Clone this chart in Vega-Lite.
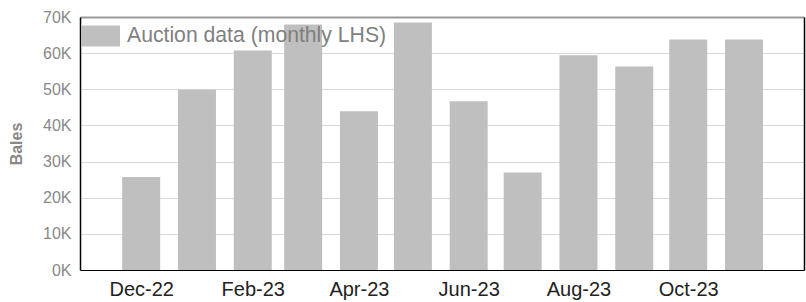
{
  "$schema": "https://vega.github.io/schema/vega-lite/v6.json",
  "width": 724,
  "height": 253,
  "autosize": {"type": "none"},
  "padding": {"left": 80, "top": 17, "right": 2, "bottom": 32},
  "background": "white",
  "config": {"view": {"stroke": null}, "font": "Liberation Sans"},
  "data": {
    "values": [
      {"month": "2022-12-01", "bales": 25700, "series": "Auction data (monthly LHS)"},
      {"month": "2023-01-01", "bales": 49900, "series": "Auction data (monthly LHS)"},
      {"month": "2023-02-01", "bales": 60700, "series": "Auction data (monthly LHS)"},
      {"month": "2023-03-01", "bales": 67900, "series": "Auction data (monthly LHS)"},
      {"month": "2023-04-01", "bales": 43900, "series": "Auction data (monthly LHS)"},
      {"month": "2023-05-01", "bales": 68500, "series": "Auction data (monthly LHS)"},
      {"month": "2023-06-01", "bales": 46700, "series": "Auction data (monthly LHS)"},
      {"month": "2023-07-01", "bales": 27000, "series": "Auction data (monthly LHS)"},
      {"month": "2023-08-01", "bales": 59400, "series": "Auction data (monthly LHS)"},
      {"month": "2023-09-01", "bales": 56300, "series": "Auction data (monthly LHS)"},
      {"month": "2023-10-01", "bales": 63800, "series": "Auction data (monthly LHS)"},
      {"month": "2023-11-01", "bales": 63800, "series": "Auction data (monthly LHS)"}
    ]
  },
  "layer": [
    {
      "mark": {"type": "bar", "size": 38},
      "encoding": {
        "x": {
          "field": "month",
          "type": "temporal",
          "scale": {
            "type": "utc",
            "padding": 0,
            "nice": false,
            "domain": [
              {"year": 2022, "month": 10, "date": 28, "utc": true},
              {"year": 2023, "month": 12, "date": 4, "hours": 8, "utc": true}
            ]
          },
          "axis": {
            "values": [
              {"year": 2022, "month": 12, "date": 1, "utc": true},
              {"year": 2023, "month": 2, "date": 1, "utc": true},
              {"year": 2023, "month": 4, "date": 1, "utc": true},
              {"year": 2023, "month": 6, "date": 1, "utc": true},
              {"year": 2023, "month": 8, "date": 1, "utc": true},
              {"year": 2023, "month": 10, "date": 1, "utc": true}
            ],
            "format": "%b-%y",
            "title": null,
            "ticks": false,
            "grid": false,
            "domainColor": "#000",
            "domainWidth": 1,
            "labelFontSize": 20,
            "labelColor": "#222",
            "labelPadding": 9,
            "labelFlush": false,
            "labelOverlap": false
          }
        },
        "y": {
          "field": "bales",
          "type": "quantitative",
          "scale": {"domain": [0, 70000], "nice": false},
          "axis": {
            "values": [0, 10000, 20000, 30000, 40000, 50000, 60000, 70000],
            "labelExpr": "datum.value / 1000 + 'K'",
            "ticks": false,
            "grid": true,
            "gridColor": "#d9d9d9",
            "gridWidth": 1,
            "domainColor": "#000",
            "domainWidth": 1.5,
            "labelFontSize": 16,
            "labelColor": "#888",
            "labelPadding": 9,
            "title": "Bales",
            "titleFontSize": 16,
            "titleFontWeight": "bold",
            "titleColor": "#888",
            "titleX": -64,
            "titleY": 126.5,
            "titleAngle": -90,
            "titleAlign": "center",
            "titleBaseline": "middle"
          }
        },
        "color": {
          "field": "series",
          "type": "nominal",
          "scale": {"range": ["#bfbfbf"]},
          "legend": {
            "orient": "none",
            "legendX": 2,
            "legendY": 0,
            "padding": 0,
            "title": null,
            "symbolType": "M-1,-0.553H1V0.553H-1Z",
            "symbolSize": 1444,
            "symbolStrokeWidth": 0,
            "symbolOpacity": 1,
            "labelFontSize": 21.2,
            "labelColor": "#808080",
            "labelOffset": 7,
            "labelLimit": 400
          }
        }
      }
    },
    {
      "mark": {"type": "bar", "size": 38, "opacity": 0},
      "encoding": {
        "x": {
          "field": "month",
          "type": "temporal",
          "axis": {"orient": "top", "labels": false, "ticks": false, "grid": false, "domainColor": "#999", "domainWidth": 2, "title": null}
        },
        "y": {
          "field": "bales",
          "type": "quantitative",
          "axis": {"orient": "right", "labels": false, "ticks": false, "grid": false, "domainColor": "#000", "domainWidth": 1.5, "title": null}
        }
      }
    }
  ],
  "resolve": {"axis": {"x": "independent", "y": "independent"}}
}
